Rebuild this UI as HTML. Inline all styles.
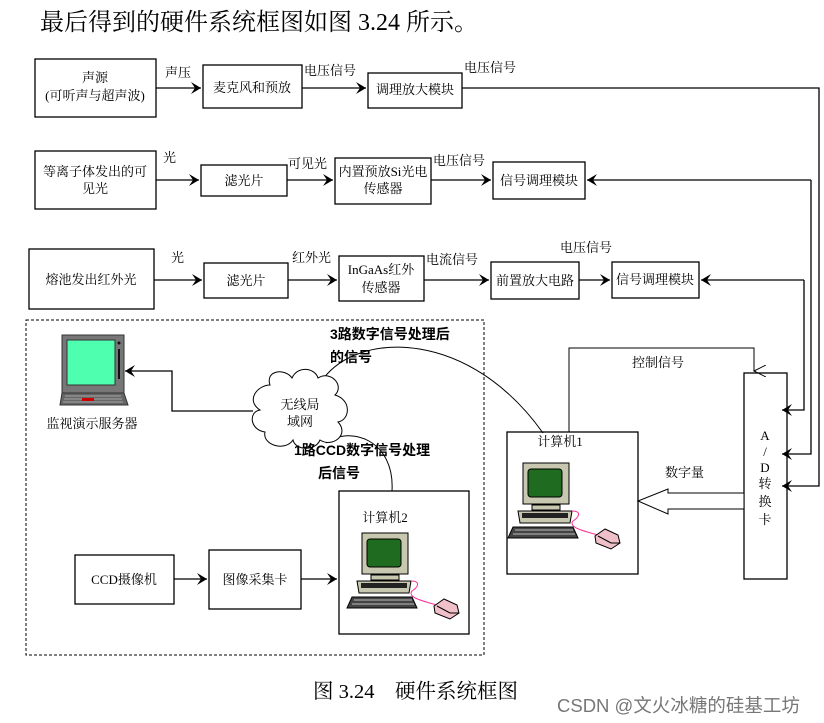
<!DOCTYPE html>
<html><head><meta charset="utf-8"><style>
html,body{margin:0;padding:0;background:#fff;}
svg{display:block;}
text{font-family:"Liberation Serif","Noto Serif CJK SC",serif;font-size:13px;fill:#000;}
.b{font-family:"Liberation Sans","Noto Sans CJK SC",sans-serif;font-weight:bold;font-size:14px;}
</style></head><body>
<svg width="824" height="723" viewBox="0 0 824 723" xmlns="http://www.w3.org/2000/svg">
<defs>
<marker id="ar" markerWidth="12" markerHeight="12" refX="10" refY="6" orient="auto" markerUnits="userSpaceOnUse">
<path d="M0,0 L10,6 L0,12 L4,6 Z" fill="#000"/></marker>
<marker id="av" markerWidth="12" markerHeight="14" refX="6" refY="12" orient="auto-start-reverse" markerUnits="userSpaceOnUse">
<path d="M0,0 L6,12 L12,0" fill="none" stroke="#000"/></marker>
<g id="pc">
<rect x="0" y="0" width="46" height="41" fill="#c8c8b0" stroke="#000"/>
<rect x="5" y="6" width="34" height="28" rx="3" fill="#1f6b1f" stroke="#000"/>
<rect x="9" y="42" width="28" height="5" fill="#c8c8b0" stroke="#000"/>
<path d="M-5,48 L49,48 L47,60 L-3,60 Z" fill="#c8c8b0" stroke="#000"/>
<rect x="-1" y="50" width="46" height="5" fill="#222"/>
<path d="M-10,64 L50,64 L55,75 L-15,75 Z" fill="#444" stroke="#000"/>
<path d="M-8,67 L50,67 M-10,71 L52,71" stroke="#bbb" stroke-width="1"/>
<path d="M49,48 C60,48 55,55 50,58 C45,64 60,68 75,72" fill="none" stroke="#ff3399" stroke-width="1"/>
<path d="M72,73 L82,66 L95,72 L97,80 L88,86 L73,80 Z" fill="#f0c0c8" stroke="#000"/>
<path d="M75,73 L88,80 L97,80" fill="none" stroke="#000"/>
</g>
</defs>

<text x="40" y="30" style="font-size:24px">最后得到的硬件系统框图如图 3.24 所示。</text>

<g fill="none" stroke="#000" stroke-width="1.3">
<rect x="35" y="59" width="121" height="58"/>
<rect x="203" y="65" width="99" height="43"/>
<rect x="368" y="73" width="94" height="35"/>
<line x1="156" y1="88" x2="201" y2="88" marker-end="url(#ar)"/>
<line x1="302" y1="88" x2="366" y2="88" marker-end="url(#ar)"/>
<polyline points="462,88 819,88 819,486 782,486" marker-end="url(#ar)"/>
<rect x="35" y="151" width="121" height="58"/>
<rect x="201" y="165" width="86" height="31"/>
<rect x="335" y="158" width="96" height="46"/>
<rect x="493" y="162" width="92" height="37"/>
<line x1="156" y1="180" x2="199" y2="180" marker-end="url(#ar)"/>
<line x1="287" y1="180" x2="333" y2="180" marker-end="url(#ar)"/>
<line x1="431" y1="180" x2="491" y2="180" marker-end="url(#ar)"/>
<polyline points="811,180 811,454 782,454" marker-end="url(#ar)"/>
<line x1="811" y1="180" x2="587" y2="180" marker-end="url(#ar)"/>
<rect x="29" y="249" width="125" height="60"/>
<rect x="204" y="263" width="84" height="35"/>
<rect x="339" y="256" width="85" height="45"/>
<rect x="491" y="262" width="88" height="37"/>
<rect x="612" y="262" width="87" height="36"/>
<line x1="154" y1="280" x2="202" y2="280" marker-end="url(#ar)"/>
<line x1="288" y1="280" x2="337" y2="280" marker-end="url(#ar)"/>
<line x1="424" y1="280" x2="489" y2="280" marker-end="url(#ar)"/>
<line x1="579" y1="280" x2="610" y2="280" marker-end="url(#ar)"/>
<polyline points="804,280 804,410 782,410" marker-end="url(#ar)"/>
<line x1="804" y1="280" x2="701" y2="280" marker-end="url(#ar)"/>
</g>
<g stroke="#000" stroke-width="1" fill="none">
<rect x="26" y="320" width="458" height="335" stroke-dasharray="3,2"/>
<rect x="744" y="373" width="43" height="206" stroke-width="1.3"/>
<rect x="507" y="432" width="131" height="142" stroke-width="1.3"/>
<rect x="339" y="491" width="130" height="143" stroke-width="1.3"/>
<rect x="75" y="555" width="99" height="49" stroke-width="1.3"/>
<rect x="209" y="550" width="92" height="59" stroke-width="1.3"/>
<line x1="174" y1="579" x2="207" y2="579" marker-end="url(#ar)" stroke-width="1.3"/>
<line x1="301" y1="579" x2="337" y2="579" marker-end="url(#ar)" stroke-width="1.3"/>
<polyline points="569,432 569,348 754,348 754,371" marker-end="url(#av)"/>
<polygon points="744,493 668,493 668,489 638,501 668,514 668,509 744,509" fill="#fff"/>
<polyline points="253,411 172,411 172,371 125,371" marker-end="url(#ar)" stroke-width="1.3"/>
<path d="M323,379 C360,330 470,330 543,433"/>
<path d="M326,443 C350,425 395,440 392,491"/>
<path d="M270,385 C265,370 285,368 292,378 C298,365 315,368 318,378 C330,370 345,385 335,395 C352,400 350,420 338,422 C350,435 332,448 320,440 C315,452 295,450 293,440 C285,452 262,445 265,432 C250,430 248,412 260,410 C245,400 258,385 270,385 Z" fill="#fff"/>
</g>

<g>
<rect x="62" y="335" width="62" height="58" fill="#777" stroke="#333"/>
<rect x="67" y="340" width="48" height="45" fill="#4fffb0" stroke="#333"/>
<rect x="118" y="349" width="2" height="30" fill="#111"/>
<circle cx="119" cy="343" r="1.5" fill="#111"/>
<path d="M62,393 L124,393 L128,405 L60,405 Z" fill="#666" stroke="#333"/>
<path d="M65,396 L121,396 M64,399 L122,399 M63,402 L123,402" stroke="#bbb" stroke-width="0.8"/>
<rect x="82" y="398" width="12" height="3" fill="#c00"/>
</g>

<use href="#pc" x="523" y="463"/>
<use href="#pc" x="362" y="533"/>

<g>
<text x="95" y="82" text-anchor="middle">声源</text>
<text x="95" y="100" text-anchor="middle">(可听声与超声波)</text>
<text x="165" y="77">声压</text>
<text x="252" y="92" text-anchor="middle">麦克风和预放</text>
<text x="304" y="75">电压信号</text>
<text x="415" y="94" text-anchor="middle">调理放大模块</text>
<text x="464" y="72">电压信号</text>
<text x="95" y="176" text-anchor="middle">等离子体发出的可</text>
<text x="95" y="193" text-anchor="middle">见光</text>
<text x="163" y="162">光</text>
<text x="244" y="185" text-anchor="middle">滤光片</text>
<text x="288" y="168">可见光</text>
<text x="383" y="176" text-anchor="middle">内置预放Si光电</text>
<text x="383" y="193" text-anchor="middle">传感器</text>
<text x="433" y="165">电压信号</text>
<text x="539" y="185" text-anchor="middle">信号调理模块</text>
<text x="91" y="284" text-anchor="middle">熔池发出红外光</text>
<text x="171" y="262">光</text>
<text x="246" y="285" text-anchor="middle">滤光片</text>
<text x="292" y="262">红外光</text>
<text x="381" y="274" text-anchor="middle">InGaAs红外</text>
<text x="381" y="292" text-anchor="middle">传感器</text>
<text x="426" y="264">电流信号</text>
<text x="535" y="285" text-anchor="middle">前置放大电路</text>
<text x="560" y="252">电压信号</text>
<text x="655" y="284" text-anchor="middle">信号调理模块</text>
<text x="92" y="428" text-anchor="middle">监视演示服务器</text>
<text x="300" y="409" text-anchor="middle">无线局</text>
<text x="300" y="426" text-anchor="middle">域网</text>
<text class="b" x="330" y="339">3路数字信号处理后</text>
<text class="b" x="330" y="362">的信号</text>
<text class="b" x="294" y="455">1路CCD数字信号处理</text>
<text class="b" x="318" y="478">后信号</text>
<text x="385" y="522" text-anchor="middle">计算机2</text>
<text x="560" y="446" text-anchor="middle">计算机1</text>
<text x="632" y="367">控制信号</text>
<text x="665" y="477">数字量</text>
<text x="124" y="584" text-anchor="middle">CCD摄像机</text>
<text x="255" y="584" text-anchor="middle">图像采集卡</text>
<g text-anchor="middle">
<text x="765" y="440">A</text>
<text x="765" y="456">/</text>
<text x="765" y="472">D</text>
<text x="765" y="488">转</text>
<text x="765" y="506">换</text>
<text x="765" y="524">卡</text>
</g>
<text x="313" y="698" style="font-size:20.5px">图 3.24　硬件系统框图</text>
<text x="557" y="712" style="font-size:18.5px;fill:#777;font-family:'Liberation Sans','Noto Sans CJK SC',sans-serif">CSDN @文火冰糖的硅基工坊</text>
</g>
</svg>
</body></html>
